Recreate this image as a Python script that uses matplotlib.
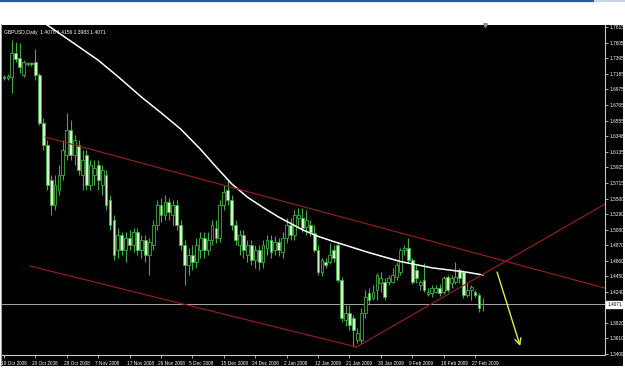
import matplotlib
matplotlib.use('Agg')
import matplotlib.pyplot as plt
import matplotlib.transforms as mtransforms
from matplotlib.patches import Rectangle
from matplotlib.lines import Line2D

# ---------------- data ----------------
opens = [1.7143, 1.7130, 1.7143, 1.7468, 1.7400, 1.7170, 1.7319, 1.7333, 1.7346, 1.7170,
         1.6522, 1.6224, 1.5752, 1.5414, 1.5616, 1.5819, 1.6089, 1.6427, 1.6089, 1.6224,
         1.5819, 1.6089, 1.5684, 1.5819, 1.5954, 1.5684, 1.5819, 1.5481, 1.5211, 1.4806,
         1.5008, 1.4806, 1.4968, 1.4873, 1.5049, 1.4806, 1.4941, 1.4738, 1.4873, 1.5143,
         1.5414, 1.5278, 1.5454, 1.5278, 1.5414, 1.5143, 1.4873, 1.4603, 1.4738, 1.4643,
         1.4806, 1.4968, 1.4806, 1.4941, 1.5103, 1.4968, 1.5414, 1.5616, 1.5481, 1.5143,
         1.4873, 1.5008, 1.4738, 1.4873, 1.4670, 1.4806, 1.4643, 1.4833, 1.4941, 1.4806,
         1.4914, 1.4778, 1.4968, 1.5143, 1.5008, 1.5238, 1.5238, 1.5116, 1.5143, 1.5035,
         1.4806, 1.4508, 1.4643, 1.4643, 1.4806, 1.4873, 1.4400, 1.3859, 1.3954, 1.3886,
         1.3589, 1.3589, 1.3954, 1.4224, 1.4157, 1.4265, 1.4359, 1.4373, 1.4373, 1.4373,
         1.4441, 1.4508, 1.4806, 1.4833, 1.4670, 1.4535, 1.4332, 1.4400, 1.4211, 1.4224,
         1.4238, 1.4292, 1.4238, 1.4441, 1.4359, 1.4373, 1.4535, 1.4508, 1.4197, 1.4265,
         1.4238, 1.4197, 1.4076]
highs = [1.7170, 1.7184, 1.7643, 1.7616, 1.7603, 1.7373, 1.7346, 1.7346, 1.7522, 1.7197,
         1.6589, 1.6292, 1.5819, 1.5819, 1.5954, 1.6292, 1.6657, 1.6562, 1.6360, 1.6292,
         1.6157, 1.6157, 1.6022, 1.6022, 1.6022, 1.5954, 1.5887, 1.5549, 1.5278, 1.5103,
         1.5049, 1.5049, 1.5076, 1.5103, 1.5103, 1.5008, 1.5008, 1.4968, 1.5211, 1.5481,
         1.5508, 1.5549, 1.5508, 1.5481, 1.5481, 1.5211, 1.4941, 1.4833, 1.4873, 1.4968,
         1.5049, 1.5049, 1.5049, 1.5211, 1.5211, 1.5481, 1.5684, 1.5752, 1.5549, 1.5211,
         1.5076, 1.5076, 1.4941, 1.4941, 1.4873, 1.4873, 1.4941, 1.5008, 1.5008, 1.4995,
         1.4968, 1.5049, 1.5238, 1.5238, 1.5346, 1.5373, 1.5373, 1.5346, 1.5211, 1.5143,
         1.4873, 1.4697, 1.4697, 1.4900, 1.4873, 1.4900, 1.4441, 1.4062, 1.4062, 1.3927,
         1.3751, 1.4022, 1.4265, 1.4292, 1.4332, 1.4495, 1.4508, 1.4427, 1.4468, 1.4562,
         1.4643, 1.4833, 1.4873, 1.4968, 1.4697, 1.4603, 1.4400, 1.4630, 1.4292, 1.4332,
         1.4332, 1.4346, 1.4454, 1.4468, 1.4468, 1.4643, 1.4562, 1.4535, 1.4359, 1.4332,
         1.4265, 1.4224, 1.4156]
lows = [1.7103, 1.7103, 1.6927, 1.7346, 1.7197, 1.7143, 1.7292, 1.7292, 1.7103, 1.6495,
        1.6157, 1.5616, 1.5278, 1.5346, 1.5549, 1.5752, 1.6022, 1.6022, 1.5954, 1.5819,
        1.5616, 1.5616, 1.5616, 1.5684, 1.5616, 1.5549, 1.5346, 1.5076, 1.4670, 1.4697,
        1.4738, 1.4643, 1.4806, 1.4778, 1.4738, 1.4697, 1.4643, 1.4468, 1.4806, 1.5076,
        1.5184, 1.5211, 1.5211, 1.5143, 1.5076, 1.4806, 1.4332, 1.4468, 1.4535, 1.4562,
        1.4697, 1.4697, 1.4738, 1.4873, 1.4900, 1.4914, 1.5346, 1.5414, 1.5076, 1.4873,
        1.4738, 1.4697, 1.4643, 1.4603, 1.4562, 1.4535, 1.4562, 1.4738, 1.4697, 1.4738,
        1.4724, 1.4697, 1.4900, 1.4941, 1.4941, 1.5103, 1.5049, 1.5008, 1.4995, 1.4778,
        1.4468, 1.4454, 1.4562, 1.4616, 1.4643, 1.4373, 1.3832, 1.3778, 1.3724, 1.3495,
        1.3549, 1.3535, 1.3886, 1.4062, 1.4130, 1.4130, 1.4238, 1.4130, 1.4332, 1.4359,
        1.4400, 1.4468, 1.4738, 1.4630, 1.4346, 1.4359, 1.4265, 1.4238, 1.4184, 1.4170,
        1.4224, 1.4184, 1.4211, 1.4238, 1.4292, 1.4346, 1.4359, 1.4157, 1.4170, 1.4130,
        1.4170, 1.3968, 1.3983]
closes = [1.7130, 1.7157, 1.7468, 1.7387, 1.7279, 1.7346, 1.7333, 1.7319, 1.7170, 1.6522,
          1.6224, 1.5684, 1.5414, 1.5684, 1.5819, 1.6157, 1.6427, 1.6089, 1.6292, 1.5887,
          1.6022, 1.5684, 1.5954, 1.5914, 1.5752, 1.5887, 1.5414, 1.5143, 1.4738, 1.5008,
          1.4806, 1.4968, 1.4873, 1.5049, 1.4806, 1.4941, 1.4738, 1.4914, 1.5143, 1.5414,
          1.5278, 1.5454, 1.5319, 1.5414, 1.5143, 1.4873, 1.4603, 1.4738, 1.4643, 1.4873,
          1.4968, 1.4806, 1.4941, 1.5143, 1.4968, 1.5414, 1.5589, 1.5481, 1.5143, 1.4941,
          1.5008, 1.4806, 1.4873, 1.4670, 1.4806, 1.4643, 1.4873, 1.4941, 1.4778, 1.4914,
          1.4806, 1.4968, 1.5143, 1.5008, 1.5278, 1.5278, 1.5103, 1.5211, 1.5049, 1.4806,
          1.4508, 1.4670, 1.4603, 1.4738, 1.4697, 1.4400, 1.3886, 1.3954, 1.3792, 1.3724,
          1.3684, 1.3954, 1.4170, 1.4130, 1.4238, 1.4468, 1.4427, 1.4170, 1.4427, 1.4468,
          1.4603, 1.4806, 1.4833, 1.4670, 1.4373, 1.4427, 1.4373, 1.4265, 1.4238, 1.4292,
          1.4292, 1.4224, 1.4427, 1.4265, 1.4427, 1.4441, 1.4427, 1.4197, 1.4265, 1.4305,
          1.4197, 1.4022, 1.4071]

# moving average (bar index, value)
ma_idx = [8, 11, 17, 24, 29, 35, 40, 45, 50, 54, 58, 62, 66, 70, 76, 80, 84, 93, 101, 109, 118, 122]
ma_val = [1.7930, 1.7846, 1.7628, 1.7370, 1.7150, 1.6873, 1.6660, 1.6440, 1.6170, 1.5930, 1.5700,
          1.5520, 1.5380, 1.5250, 1.5080, 1.4990, 1.4920, 1.4770, 1.4650, 1.4565, 1.4505, 1.4468]

# trend lines (bar index, price)
upper_x, upper_y = [10.5, 154.0], [1.6332, 1.4278]
lower_x, lower_y = [6.6, 89.8], [1.4589, 1.3495]
rise_x, rise_y = [89.8, 154.0], [1.3495, 1.5454]
arrow_from, arrow_to = (125.6, 1.4508), (131.5, 1.3508)

last_price = 1.4071
header = "GBPUSD,Daily  1.4076 1.4156 1.3983 1.4071"

date_labels = ['10 Oct 2008', '20 Oct 2008', '29 Oct 2008', '7 Nov 2008', '17 Nov 2008',
               '26 Nov 2008', '5 Dec 2008', '15 Dec 2008', '24 Dec 2008', '2 Jan 2009',
               '12 Jan 2009', '21 Jan 2009', '30 Jan 2009', '9 Feb 2009', '18 Feb 2009',
               '27 Feb 2009']
date_idx = [8 * k for k in range(len(date_labels))]

price_ticks = [1.3400, 1.3610, 1.3820, 1.4030, 1.4240, 1.4450, 1.4660, 1.4870, 1.5080, 1.5290,
               1.5500, 1.5715, 1.5925, 1.6135, 1.6346, 1.6555, 1.6765, 1.6975, 1.7185, 1.7395,
               1.7605, 1.7815]

# ---------------- drawing ----------------
FONT = ['Liberation Sans Narrow', 'Liberation Sans', 'DejaVu Sans']
plt.rcParams['font.family'] = FONT
SMALL = 3.4

W, H = 625, 391
fig = plt.figure(figsize=(W / 100, H / 100), dpi=100)
fig.patch.set_facecolor('white')

# black terminal window behind the chart
fig.patches.append(Rectangle((2 / W, (H - 366) / H), 621 / W, 341 / H,
                             transform=fig.transFigure, facecolor='black',
                             edgecolor='none', zorder=-10))
# top blue bar and left border
fig.lines.append(Line2D([0, 0.952], [1 - 0.8 / H] * 2, transform=fig.transFigure,
                        color='#2858a8', lw=1.6))
fig.lines.append(Line2D([0.952, 1], [1 - 0.8 / H] * 2, transform=fig.transFigure,
                        color='#c8d4e6', lw=1.6))
fig.lines.append(Line2D([1.2 / W] * 2, [(H - 366) / H, (H - 24) / H], transform=fig.transFigure,
                        color='#a0a0a0', lw=0.8))

ax = fig.add_axes([2 / W, (H - 355) / H, 603 / W, 330 / H])
ax.set_facecolor('black')

edge = '#3fae3f'
fill_bear = '#d6f2cc'
n = len(opens)
xs = list(range(n))

# wicks
ax.vlines(xs, lows, highs, color=edge, lw=0.8, zorder=2)
# bodies
for i in xs:
    o, c = opens[i], closes[i]
    bottom = min(o, c)
    h = max(abs(c - o), 0.0006)
    face = 'black' if c > o else fill_bear
    ax.add_patch(Rectangle((i - 0.36, bottom), 0.72, h, facecolor=face,
                           edgecolor=edge, lw=0.6, zorder=3))

# moving average
ax.plot(ma_idx, ma_val, color='white', lw=1.1, zorder=4)

# trend lines
red = '#8e1f1f'
for lx, ly in [(upper_x, upper_y), (lower_x, lower_y), (rise_x, rise_y)]:
    ax.plot(lx, ly, color=red, lw=0.9, zorder=4)

# current price line
ax.axhline(last_price, color='#a8a8a8', lw=0.7, zorder=1)

# yellow arrow
ax.annotate('', xy=arrow_to, xytext=arrow_from,
            arrowprops=dict(arrowstyle='->', color='#e8e850', lw=1.0,
                            mutation_scale=11, shrinkA=0, shrinkB=0), zorder=5)

ax.set_xlim(-0.51, 153.1)
ax.set_ylim(1.3387, 1.7846)

# spines
for s in ['top', 'left']:
    ax.spines[s].set_visible(False)
for s in ['right', 'bottom']:
    ax.spines[s].set_color('#c8c8c8')
    ax.spines[s].set_linewidth(0.8)

# y axis on the right
ax.yaxis.tick_right()
ax.set_yticks(price_ticks)
ax.set_yticklabels([f'{v:.4f}' for v in price_ticks])
ax.tick_params(axis='y', colors='#c8c8c8', labelcolor='white', labelsize=SMALL,
               length=2.0, width=0.6, pad=1.0, direction='out')

# x axis
ax.set_xticks(date_idx)
ax.set_xticklabels(date_labels)
ax.tick_params(axis='x', colors='#c8c8c8', labelcolor='white', labelsize=SMALL,
               length=2.5, width=0.6, pad=1.5, direction='out')
shift = mtransforms.ScaledTranslation(-3 / 100, 0, fig.dpi_scale_trans)
for lab in ax.get_xticklabels():
    lab.set_horizontalalignment('left')
    lab.set_transform(lab.get_transform() + shift)

# current price box
trans = mtransforms.blended_transform_factory(ax.transAxes, ax.transData)
ax.text(1.004, last_price, f'{last_price:.4f}', transform=trans, fontsize=SMALL,
        color='black', va='center', ha='left', zorder=10, clip_on=False,
        bbox=dict(boxstyle='square,pad=0.25', facecolor='white', edgecolor='white'))

# header text
ax.text(0.004, 0.985, header, transform=ax.transAxes, fontsize=3.6, color='white',
        va='top', ha='left', zorder=6)

# chart shift marker
ax.plot([122.5], [1.7846], marker='v', markersize=2.6, color='#909090',
        clip_on=False, zorder=6)

fig.savefig('out.png', dpi=100, facecolor='white')
